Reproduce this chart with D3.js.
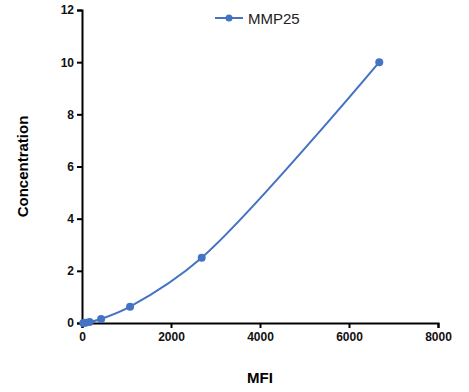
<!DOCTYPE html>
<html>
<head>
<meta charset="utf-8">
<script src="https://cdn.jsdelivr.net/npm/d3@7"></script>
<style>
  body { margin: 0; background: #fff; }
  text { font-family: Arial, "Liberation Sans", sans-serif; }
</style>
</head>
<body>
<svg id="chart" width="469" height="392"></svg>
<script>
const mfi = [30, 80, 170, 430, 1080, 2690, 6680];
const concentration = [0, 0.0098, 0.039, 0.156, 0.625, 2.5, 10];
const xTicks = [0, 2000, 4000, 6000, 8000];
const yTicks = [0, 2, 4, 6, 8, 10, 12];
const seriesName = 'MMP25';
const color = '#4472c4';

const svg = d3.select('#chart');
const margin = {top: 10, right: 31, bottom: 69, left: 82};
const width = +svg.attr('width') - margin.left - margin.right;
const height = +svg.attr('height') - margin.top - margin.bottom;
const g = svg.append('g').attr('transform', `translate(${margin.left},${margin.top})`);

const data = mfi.map((m, i) => [m, concentration[i]]);

const x = d3.scaleLinear().domain([0, 8000]).range([0, width]);
const y = d3.scaleLinear().domain([0, 12]).range([height, 0]);

// axes
const xAxis = g.append('g')
  .attr('transform', `translate(0,${height})`)
  .call(d3.axisBottom(x).tickValues(xTicks).tickFormat(d3.format('d')).tickSize(5).tickPadding(4));
const yAxis = g.append('g')
  .call(d3.axisLeft(y).tickValues(yTicks).tickFormat(d3.format('d')).tickSize(5).tickPadding(3));

[xAxis, yAxis].forEach(a => {
  a.select('.domain').attr('stroke', '#000').attr('stroke-width', 2);
  a.selectAll('.tick line').attr('stroke', '#000').attr('stroke-width', 2);
  a.selectAll('.tick text')
    .attr('fill', '#111')
    .style('font-size', '12px')
    .style('font-weight', 'bold');
});

// curve
g.append('path')
  .datum(data)
  .attr('fill', 'none')
  .attr('stroke', color)
  .attr('stroke-width', 2)
  .attr('d', d3.line().x(d => x(d[0])).y(d => y(d[1])).curve(d3.curveCatmullRom.alpha(0.5)));

g.selectAll('.dot')
  .data(data)
  .enter().append('circle')
  .attr('class', 'dot')
  .attr('cx', d => x(d[0]))
  .attr('cy', d => y(d[1]))
  .attr('r', 4)
  .attr('fill', color);

// axis titles
svg.append('text')
  .attr('x', margin.left + width / 2)
  .attr('y', 383)
  .attr('text-anchor', 'middle')
  .style('font-size', '15px')
  .style('font-weight', 'bold')
  .text('MFI');

svg.append('text')
  .attr('transform', `translate(28,${margin.top + height / 2}) rotate(-90)`)
  .attr('text-anchor', 'middle')
  .style('font-size', '15px')
  .style('font-weight', 'bold')
  .text('Concentration');

// legend
const legend = svg.append('g').attr('transform', 'translate(215,18)');
legend.append('line').attr('x1', 0).attr('x2', 28).attr('y1', 0).attr('y2', 0)
  .attr('stroke', color).attr('stroke-width', 2);
legend.append('circle').attr('cx', 14).attr('cy', 0).attr('r', 3.5).attr('fill', color);
legend.append('text').attr('x', 33).attr('y', 5.5)
  .style('font-size', '15px')
  .attr('fill', '#222')
  .text(seriesName);
</script>
</body>
</html>
